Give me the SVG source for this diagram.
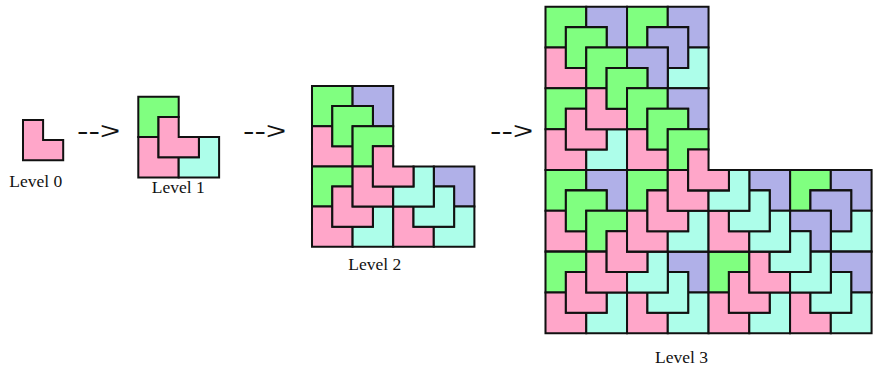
<svg xmlns="http://www.w3.org/2000/svg" xmlns:xlink="http://www.w3.org/1999/xlink" width="873" height="366" viewBox="0 0 873 366">
  <style>
    .t { stroke: #111; stroke-width: 0.1; stroke-linejoin: miter; }
    .p { fill: #ffa6c9; }
    .g { fill: #80ff80; }
    .c { fill: #adfeea; }
    .v { fill: #b0b0e8; }
    .lbl { font-family: "Liberation Serif", "Times New Roman", serif; font-size: 17.5px; fill: #111; }
    .arr { font-family: "Liberation Sans", Arial, sans-serif; font-size: 23px; fill: #111; }
  </style>
  <defs>
    <path id="BL" class="t p" d="M0,0 H1 V1 H2 V2 H0 Z"/>
    <path id="TL" class="t g" d="M0,0 H2 V1 H1 V2 H0 Z"/>
    <path id="BR" class="t c" d="M1,0 H2 V2 H0 V1 H1 Z"/>
    <path id="TR" class="t v" d="M0,0 H2 V2 H1 V1 H0 Z"/>
  </defs>

  <g id="level0" transform="translate(23,120) scale(20.1)">
    <use xlink:href="#BL" x="0" y="0"/>
  </g>

  <g id="level1" transform="translate(138.3,96.7) scale(20.2)">
    <use xlink:href="#TL" x="0" y="0"/>
    <use xlink:href="#BL" x="0" y="2"/>
    <use xlink:href="#BR" x="2" y="2"/>
    <use xlink:href="#BL" x="1" y="1"/>
  </g>

  <g id="level2" transform="translate(312,86) scale(20.3,20.1)">
    <use xlink:href="#TL" x="0" y="0"/>
    <use xlink:href="#TR" x="2" y="0"/>
    <use xlink:href="#BL" x="0" y="2"/>
    <use xlink:href="#TL" x="1" y="1"/>
    <use xlink:href="#TL" x="0" y="4"/>
    <use xlink:href="#BL" x="0" y="6"/>
    <use xlink:href="#BR" x="2" y="6"/>
    <use xlink:href="#BL" x="1" y="5"/>
    <use xlink:href="#TR" x="6" y="4"/>
    <use xlink:href="#BL" x="4" y="6"/>
    <use xlink:href="#BR" x="6" y="6"/>
    <use xlink:href="#BR" x="5" y="5"/>
    <use xlink:href="#TL" x="2" y="2"/>
    <use xlink:href="#BL" x="2" y="4"/>
    <use xlink:href="#BR" x="4" y="4"/>
    <use xlink:href="#BL" x="3" y="3"/>
  </g>

  <g id="level3" transform="translate(545.5,6.7) scale(20.38,20.41)">
    <use xlink:href="#TL" x="0" y="0"/>
    <use xlink:href="#TR" x="2" y="0"/>
    <use xlink:href="#BL" x="0" y="2"/>
    <use xlink:href="#TL" x="1" y="1"/>
    <use xlink:href="#TL" x="4" y="0"/>
    <use xlink:href="#TR" x="6" y="0"/>
    <use xlink:href="#BR" x="6" y="2"/>
    <use xlink:href="#TR" x="5" y="1"/>
    <use xlink:href="#TL" x="0" y="4"/>
    <use xlink:href="#BL" x="0" y="6"/>
    <use xlink:href="#BR" x="2" y="6"/>
    <use xlink:href="#BL" x="1" y="5"/>
    <use xlink:href="#TL" x="2" y="2"/>
    <use xlink:href="#TR" x="4" y="2"/>
    <use xlink:href="#BL" x="2" y="4"/>
    <use xlink:href="#TL" x="3" y="3"/>
    <use xlink:href="#TL" x="0" y="8"/>
    <use xlink:href="#TR" x="2" y="8"/>
    <use xlink:href="#BL" x="0" y="10"/>
    <use xlink:href="#TL" x="1" y="9"/>
    <use xlink:href="#TL" x="0" y="12"/>
    <use xlink:href="#BL" x="0" y="14"/>
    <use xlink:href="#BR" x="2" y="14"/>
    <use xlink:href="#BL" x="1" y="13"/>
    <use xlink:href="#TR" x="6" y="12"/>
    <use xlink:href="#BL" x="4" y="14"/>
    <use xlink:href="#BR" x="6" y="14"/>
    <use xlink:href="#BR" x="5" y="13"/>
    <use xlink:href="#TL" x="2" y="10"/>
    <use xlink:href="#BL" x="2" y="12"/>
    <use xlink:href="#BR" x="4" y="12"/>
    <use xlink:href="#BL" x="3" y="11"/>
    <use xlink:href="#TL" x="12" y="8"/>
    <use xlink:href="#TR" x="14" y="8"/>
    <use xlink:href="#BR" x="14" y="10"/>
    <use xlink:href="#TR" x="13" y="9"/>
    <use xlink:href="#TL" x="8" y="12"/>
    <use xlink:href="#BL" x="8" y="14"/>
    <use xlink:href="#BR" x="10" y="14"/>
    <use xlink:href="#BL" x="9" y="13"/>
    <use xlink:href="#TR" x="14" y="12"/>
    <use xlink:href="#BL" x="12" y="14"/>
    <use xlink:href="#BR" x="14" y="14"/>
    <use xlink:href="#BR" x="13" y="13"/>
    <use xlink:href="#TR" x="12" y="10"/>
    <use xlink:href="#BL" x="10" y="12"/>
    <use xlink:href="#BR" x="12" y="12"/>
    <use xlink:href="#BR" x="11" y="11"/>
    <use xlink:href="#TL" x="4" y="4"/>
    <use xlink:href="#TR" x="6" y="4"/>
    <use xlink:href="#BL" x="4" y="6"/>
    <use xlink:href="#TL" x="5" y="5"/>
    <use xlink:href="#TL" x="4" y="8"/>
    <use xlink:href="#BL" x="4" y="10"/>
    <use xlink:href="#BR" x="6" y="10"/>
    <use xlink:href="#BL" x="5" y="9"/>
    <use xlink:href="#TR" x="10" y="8"/>
    <use xlink:href="#BL" x="8" y="10"/>
    <use xlink:href="#BR" x="10" y="10"/>
    <use xlink:href="#BR" x="9" y="9"/>
    <use xlink:href="#TL" x="6" y="6"/>
    <use xlink:href="#BL" x="6" y="8"/>
    <use xlink:href="#BR" x="8" y="8"/>
    <use xlink:href="#BL" x="7" y="7"/>
  </g>

  <g id="connectors">
    <text class="arr" x="77" y="139" textLength="43" lengthAdjust="spacingAndGlyphs">--&gt;</text>
    <text class="arr" x="243" y="139" textLength="43" lengthAdjust="spacingAndGlyphs">--&gt;</text>
    <text class="arr" x="490" y="139" textLength="43" lengthAdjust="spacingAndGlyphs">--&gt;</text>
  </g>

  <g id="labels">
    <text class="lbl" x="9.3" y="187.3">Level 0</text>
    <text class="lbl" x="151.7" y="193.3">Level 1</text>
    <text class="lbl" x="348.3" y="270">Level 2</text>
    <text class="lbl" x="655" y="363">Level 3</text>
  </g>
</svg>
